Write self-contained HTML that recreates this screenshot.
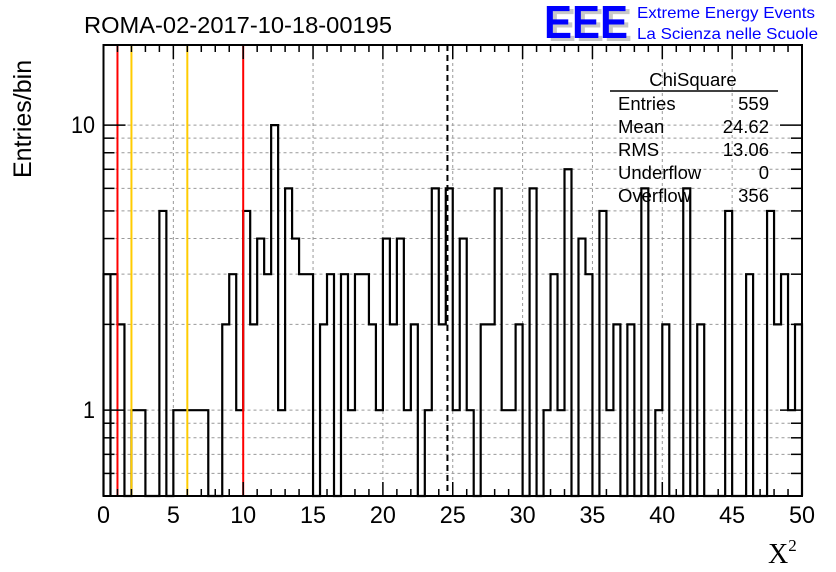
<!DOCTYPE html>
<html><head><meta charset="utf-8"><style>
html,body{margin:0;padding:0;background:#fff;}
svg{display:block;font-family:"Liberation Sans",sans-serif;}
</style></head><body>
<svg id="chart" width="836" height="572" viewBox="0 0 836 572">
<rect width="836" height="572" fill="#fff"/>
<text x="84" y="33" font-size="23" textLength="308" lengthAdjust="spacingAndGlyphs">ROMA-02-2017-10-18-00195</text>
<g>
<text x="548" y="41" font-size="46" font-weight="bold" fill="#c8c8c8" textLength="84" lengthAdjust="spacingAndGlyphs">EEE</text>
<text x="544" y="38" font-size="46" font-weight="bold" fill="#0000ff" textLength="84" lengthAdjust="spacingAndGlyphs">EEE</text>
<text x="637" y="18" font-size="16" fill="#0000ff" textLength="178" lengthAdjust="spacingAndGlyphs">Extreme Energy Events</text>
<text x="637" y="39" font-size="16" fill="#0000ff" textLength="181" lengthAdjust="spacingAndGlyphs">La Scienza nelle Scuole</text>
</g>
<g id="grid"></g>
<g id="marks"></g>
<g id="axes"></g>
<g font-size="18.5">
<text x="693" y="86" text-anchor="middle">ChiSquare</text>
<line x1="610" y1="91" x2="778" y2="91" stroke="#000" stroke-width="1.5"/>
<text x="618" y="110">Entries</text><text x="769" y="110" text-anchor="end">559</text>
<text x="618" y="133">Mean</text><text x="769" y="133" text-anchor="end">24.62</text>
<text x="618" y="156">RMS</text><text x="769" y="156" text-anchor="end">13.06</text>
<text x="618" y="179">Underflow</text><text x="769" y="179" text-anchor="end">0</text>
<text x="618" y="202">Overflow</text><text x="769" y="202" text-anchor="end">356</text>
</g>
<text transform="translate(31,178) rotate(-90)" font-size="25">Entries/bin</text>
<text x="768" y="563" font-size="28" font-family="Liberation Serif,serif">X<tspan font-size="17" dy="-12">2</tspan></text>
</svg>
<script>
const counts = [3,3,2,0,1,1,0,0,5,0,1,1,1,1,1,0,0,2,3,1,5,2,4,3,10,1,6,4,3,3,0,2,3,0,3,1,3,3,2,1,4,2,4,1,2,0,1,6,2,6,1,4,1,0,2,2,6,1,1,2,0,6,0,1,3,1,7,0,4,3,0,5,1,2,0,2,0,6,0,1,2,0,0,6,0,2,0,0,0,5,0,0,3,0,0,5,2,3,1,2];
const binWidth = [0.5];
const xTicks = [0,5,10,15,20,25,30,35,40,45,50];
const yMajor = [1,10];
const yMinor = [0.6,0.7,0.8,0.9,2,3,4,5,6,7,8,9];
const redLines = [1,10];
const yellowLines = [2,6];
const meanValue = [24.62];
const X0=103.5,X1=802,Y0=496,Y1=45,YMIN=0.5,YMAX=19.1;
const L0=Math.log10(YMIN),L1=Math.log10(YMAX);
const sx=v=>X0+(v-0)/(50-0)*(X1-X0);
const sy=v=>v<=YMIN?Y0:Y0-(Math.log10(v)-L0)/(L1-L0)*(Y0-Y1);
const NS='http://www.w3.org/2000/svg';
function mk(tag,attrs,parent){const e=document.createElementNS(NS,tag);for(const k in attrs)e.setAttribute(k,attrs[k]);parent.appendChild(e);return e;}
const grid=document.getElementById('grid'),marks=document.getElementById('marks'),axes=document.getElementById('axes');
const gs={stroke:'#999','stroke-width':1,'stroke-dasharray':'3,3'};
xTicks.forEach(t=>{if(t>0&&t<50){const l=mk('line',Object.assign({x1:sx(t),x2:sx(t),y1:Y1,y2:Y0},gs),grid);

}});
yMajor.concat(yMinor).forEach(t=>{const l=mk('line',Object.assign({x1:X0,x2:X1,y1:sy(t),y2:sy(t)},gs),grid);

});
let d='M'+X0+','+Y0;
const bw=binWidth[0];
counts.forEach((c,i)=>{const y=sy(c);d+=' L'+sx(i*bw)+','+y+' L'+sx((i+1)*bw)+','+y;});
d+=' L'+X1+','+Y0;
const h=mk('path',{d:d,fill:'none',stroke:'#000','stroke-width':2.2},marks);


const sep=mk('line',{x1:sx(bw),x2:sx(bw),y1:Y0,y2:sy(counts[0]),stroke:'#000','stroke-width':2.2},marks);


redLines.forEach(v=>{const l=mk('line',{x1:sx(v),x2:sx(v),y1:Y1,y2:Y0,stroke:'#ff0000','stroke-width':2},marks);

});
yellowLines.forEach(v=>{const l=mk('line',{x1:sx(v),x2:sx(v),y1:Y1,y2:Y0,stroke:'#ffcc00','stroke-width':2},marks);

});
const ml=mk('line',{x1:sx(meanValue[0]),x2:sx(meanValue[0]),y1:Y1,y2:Y0,stroke:'#000','stroke-width':2,'stroke-dasharray':'6,4'},marks);


const fr=mk('rect',{x:X0,y:Y1,width:X1-X0,height:Y0-Y1,fill:'none',stroke:'#000','stroke-width':2},axes);


for(let t=0;t<=50;t++){const len=t%5===0?14:7;
mk('line',{x1:sx(t),x2:sx(t),y1:Y0,y2:Y0-len,stroke:'#000','stroke-width':1.5},axes);
mk('line',{x1:sx(t),x2:sx(t),y1:Y1,y2:Y1+len,stroke:'#000','stroke-width':1.5},axes);}
yMajor.concat(yMinor).forEach(t=>{const len=yMajor.includes(t)?22:11;
mk('line',{x1:X0,x2:X0+len,y1:sy(t),y2:sy(t),stroke:'#000','stroke-width':1.5},axes);
mk('line',{x1:X1,x2:X1-len,y1:sy(t),y2:sy(t),stroke:'#000','stroke-width':1.5},axes);});
xTicks.forEach(t=>{const s=String(t);const tx=mk('text',{x:sx(t),y:523,'font-size':24,'text-anchor':'middle',textLength:s.length*13,lengthAdjust:'spacingAndGlyphs'},axes);tx.textContent=s;

});
yMajor.forEach(t=>{const s=String(t);const tx=mk('text',{x:95,y:sy(t)+8,'font-size':24,'text-anchor':'end',textLength:s.length*12,lengthAdjust:'spacingAndGlyphs'},axes);tx.textContent=s;

});
</script>
</body></html>
